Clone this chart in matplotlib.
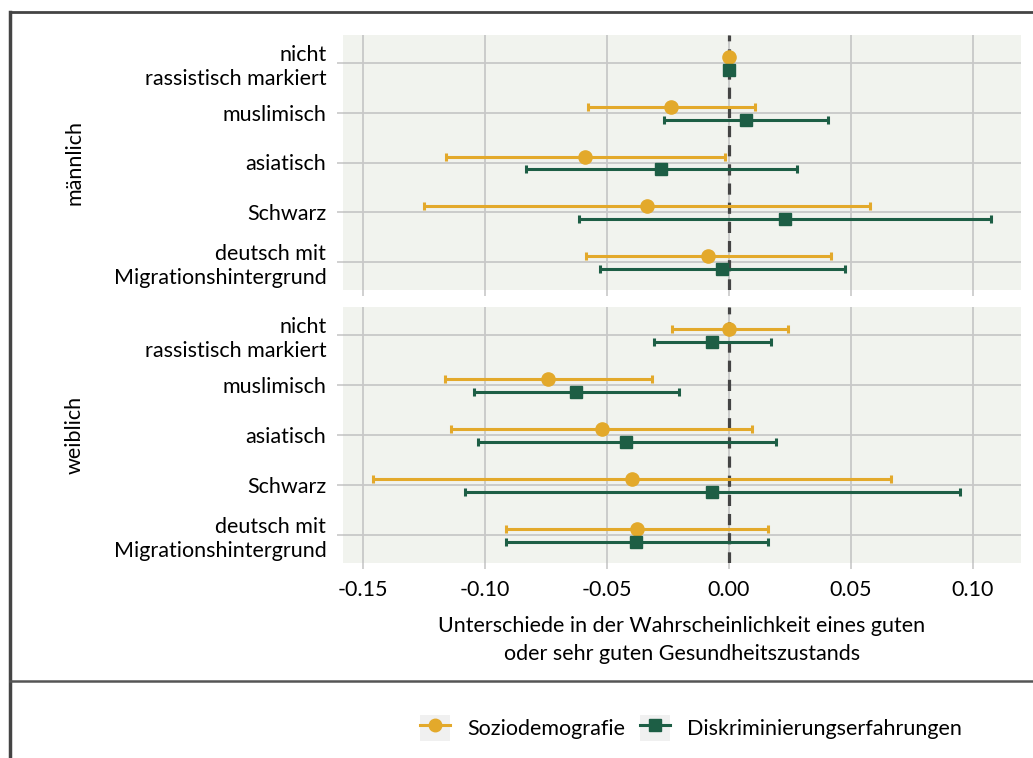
import numpy as np
import matplotlib
matplotlib.use("Agg")
import matplotlib.pyplot as plt
from matplotlib.lines import Line2D
from matplotlib.patches import Patch
from matplotlib.legend_handler import HandlerTuple

plt.rcParams['font.family'] = ['Lato', 'DejaVu Sans']

# categories (top to bottom)
groups = ["nicht\nrassistisch markiert", "muslimisch", "asiatisch", "Schwarz",
          "deutsch mit\nMigrationshintergrund"]
panels = ["männlich", "weiblich"]

# Soziodemografie: estimate, lower, upper
soz_m = [0.0, -0.0236, -0.0589, -0.0336, -0.0085]
soz_m_lo = [0.0, -0.0578, -0.1159, -0.1250, -0.0587]
soz_m_hi = [0.0, 0.0108, -0.0016, 0.0579, 0.0419]
soz_w = [0.0, -0.0742, -0.0522, -0.0399, -0.0378]
soz_w_lo = [-0.0235, -0.1165, -0.1138, -0.1458, -0.0914]
soz_w_hi = [0.0240, -0.0317, 0.0093, 0.0663, 0.0159]

# Diskriminierungserfahrungen: estimate, lower, upper
dis_m = [0.0, 0.0071, -0.0277, 0.0231, -0.0027]
dis_m_lo = [0.0, -0.0265, -0.0831, -0.0615, -0.0527]
dis_m_hi = [0.0, 0.0407, 0.0280, 0.1075, 0.0475]
dis_w = [-0.0068, -0.0626, -0.0421, -0.0068, -0.0380]
dis_w_lo = [-0.0309, -0.1045, -0.1029, -0.1081, -0.0915]
dis_w_hi = [0.0174, -0.0204, 0.0191, 0.0948, 0.0160]

xticks = [-0.15, -0.10, -0.05, 0.00, 0.05, 0.10]

c_soz = "#E3A92B"
c_dis = "#1D5E45"
bg = "#F1F3EE"
grid_c = "#C8C8C8"
fs = 15.5

W, H = 1033, 758
fig = plt.figure(figsize=(W / 100, H / 100), dpi=100)

left, right = 343 / W, 1021 / W
boxes = [(35, 290), (307, 563)]

data = [
    (soz_m, soz_m_lo, soz_m_hi, dis_m, dis_m_lo, dis_m_hi),
    (soz_w, soz_w_lo, soz_w_hi, dis_w, dis_w_lo, dis_w_hi),
]

for i, (top, bot) in enumerate(boxes):
    ax = fig.add_axes([left, 1 - bot / H, right - left, (bot - top) / H])
    ax.set_facecolor(bg)
    for s in ax.spines.values():
        s.set_visible(False)
    y = np.arange(len(groups))
    s_est, s_lo, s_hi, d_est, d_lo, d_hi = [np.array(v) for v in data[i]]
    ax.errorbar(s_est, y - 0.12, xerr=[s_est - s_lo, s_hi - s_est], fmt='o',
                color=c_soz, ms=9.5, elinewidth=2.2, capsize=3, capthick=2.2, zorder=4)
    ax.errorbar(d_est, y + 0.14, xerr=[d_est - d_lo, d_hi - d_est], fmt='s',
                color=c_dis, ms=8, elinewidth=2.2, capsize=3, capthick=2.2, zorder=4)
    ax.axvline(0, color="#444444", lw=2.3, ls=(0, (3.5, 2.5)), zorder=3)
    ax.set_xlim(-0.1582, 0.1197)
    ax.set_ylim(len(groups) - 0.44, -0.56)
    ax.set_yticks(y)
    ax.set_yticklabels(groups, fontsize=fs, linespacing=1.25)
    ax.set_xticks(xticks)
    ax.grid(True, color=grid_c, lw=1.3, zorder=0)
    ax.set_axisbelow(True)
    ax.tick_params(axis='both', color=grid_c, length=4, width=1.2, pad=8, labelsize=fs)
    if i == 0:
        ax.tick_params(axis='x', labelbottom=False)
    else:
        ax.set_xticklabels([f"{t:.2f}" for t in xticks])
        ax.set_xlabel("Unterschiede in der Wahrscheinlichkeit eines guten\n"
                      "oder sehr guten Gesundheitszustands", fontsize=fs,
                      linespacing=1.45, labelpad=12)
    fig.text(75 / W, 1 - (top + bot) / 2 / H, panels[i], rotation=90,
             ha='center', va='center', fontsize=fs)

# frame lines
fig.add_artist(Line2D([10 / W, 10 / W], [0, 1 - 12 / H], color="#444444", lw=2.5,
                      transform=fig.transFigure))
fig.add_artist(Line2D([10 / W, 1], [1 - 12 / H, 1 - 12 / H], color="#444444", lw=2,
                      transform=fig.transFigure))
fig.add_artist(Line2D([10 / W, 1], [1 - 681 / H, 1 - 681 / H], color="#555555", lw=1.8,
                      transform=fig.transFigure))

# legend
h_soz = (Patch(facecolor="#F0F0F0", edgecolor="none"),
         Line2D([], [], color=c_soz, marker='o', ms=9, lw=2.2))
h_dis = (Patch(facecolor="#F0F0F0", edgecolor="none"),
         Line2D([], [], color=c_dis, marker='s', ms=8, lw=2.2))
fig.legend([h_soz, h_dis], ["Soziodemografie", "Diskriminierungserfahrungen"],
           handler_map={tuple: HandlerTuple(ndivide=1, pad=0)},
           loc='center', bbox_to_anchor=(691 / W, 1 - 728 / H), ncol=2,
           frameon=False, fontsize=fs, handlelength=1.4, handleheight=1.5,
           handletextpad=0.8, columnspacing=0.7)

fig.savefig("out.png", dpi=100)
